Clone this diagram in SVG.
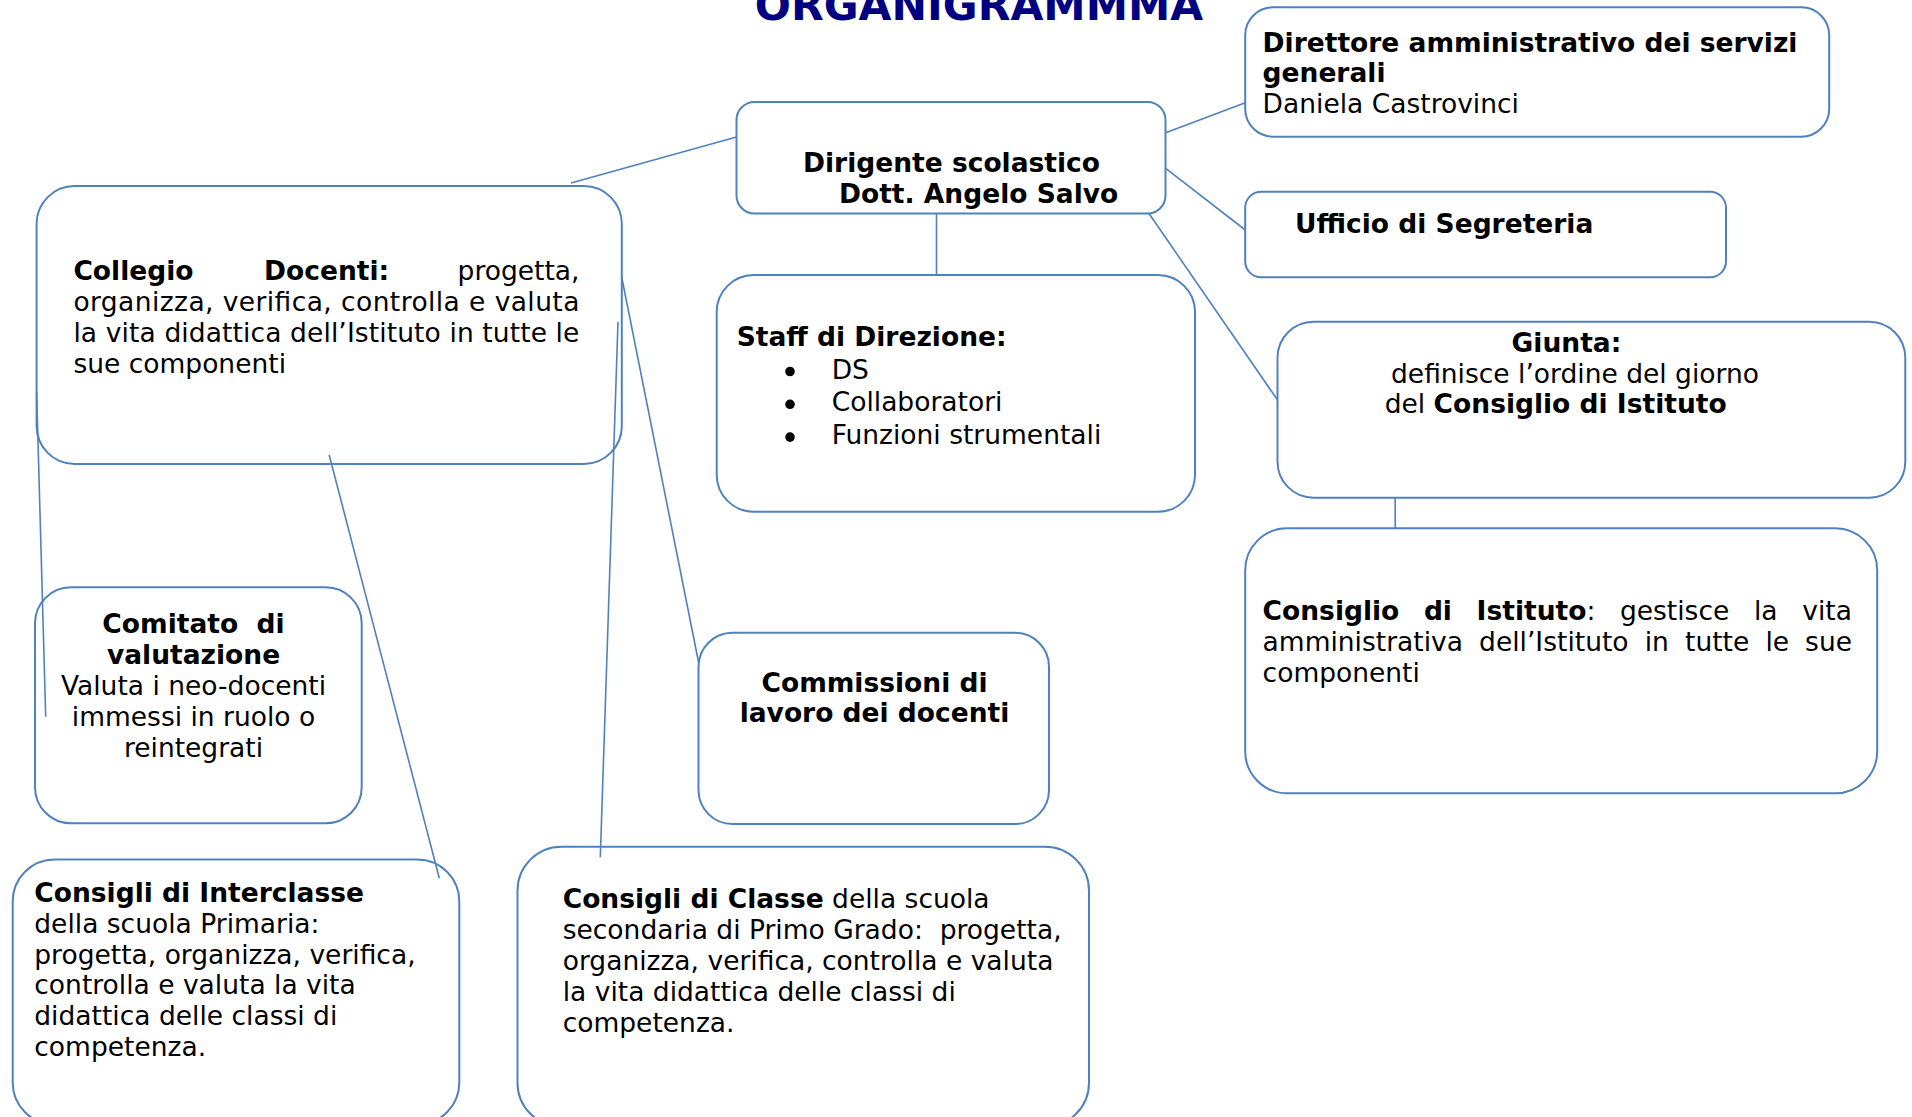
<svg xmlns="http://www.w3.org/2000/svg" width="1912" height="1117" viewBox="0 0 1912 1117">
<style>
.box{fill:#ffffff;stroke:#4f81bd;stroke-width:2}
.ln{stroke:#4f81bd;stroke-width:1.6;fill:none}
text{font-family:"DejaVu Sans","Liberation Sans",sans-serif;font-size:26.5px;fill:#000}
.b{font-weight:bold}
.c{text-anchor:middle}
.title{font-size:42.5px;font-weight:bold;fill:#000080;text-anchor:middle}
</style>
<rect width="1912" height="1117" fill="#ffffff"/>
<text class="title" x="979" y="20">ORGANIGRAMMMA</text>

<g id="dirigente">
<rect class="box" x="736.5" y="102" width="429" height="111.5" rx="18"/>
<text class="b" x="803" y="171.7">Dirigente scolastico</text>
<text class="b" x="839" y="202.7">Dott. Angelo Salvo</text>
</g>

<g id="direttore">
<rect class="box" x="1245.2" y="7.3" width="584" height="129.4" rx="28"/>
<text class="b" x="1262.6" y="51.7">Direttore amministrativo dei servizi</text>
<text class="b" x="1262.6" y="81.7">generali</text>
<text x="1262.6" y="112.7">Daniela Castrovinci</text>
</g>

<g id="ufficio">
<rect class="box" x="1245.2" y="191.7" width="480.8" height="85.6" rx="16"/>
<text class="b" x="1295" y="233.3">Ufficio di Segreteria</text>
</g>

<g id="collegio">
<rect class="box" x="36.6" y="186" width="585.2" height="278" rx="38"/>
<text class="b" x="73.4" y="280">Collegio</text>
<text class="b" x="264" y="280">Docenti:</text>
<text x="579.5" y="280" text-anchor="end">progetta,</text>
<text x="73.4" y="311" textLength="506" lengthAdjust="spacing">organizza, verifica, controlla e valuta</text>
<text x="73.4" y="342" textLength="506" lengthAdjust="spacing">la vita didattica dell’Istituto in tutte le</text>
<text x="73.4" y="373">sue componenti</text>
</g>

<g id="staff">
<rect class="box" x="716.7" y="275" width="478.3" height="236.7" rx="37"/>
<text class="b" x="736.7" y="346">Staff di Direzione:</text>
<circle cx="790" cy="371.5" r="4.8" fill="#000"/>
<circle cx="790" cy="404.3" r="4.8" fill="#000"/>
<circle cx="790" cy="437.1" r="4.8" fill="#000"/>
<text x="831.7" y="378.5">DS</text>
<text x="831.7" y="411.3">Collaboratori</text>
<text x="831.7" y="444.1">Funzioni strumentali</text>
</g>

<g id="giunta">
<rect class="box" x="1277.5" y="321.7" width="627.8" height="176" rx="36"/>
<text class="b" x="1511.6" y="351.7">Giunta:</text>
<text x="1391" y="383.3">definisce l’ordine del giorno</text>
<text x="1384.7" y="413.3">del <tspan class="b">Consiglio di Istituto</tspan></text>
</g>

<g id="consiglio-istituto">
<rect class="box" x="1245.2" y="528.3" width="632" height="265" rx="42"/>
<text class="b" x="1262.6" y="620">Consiglio</text>
<text class="b" x="1423.9" y="620">di</text>
<text x="1476.6" y="620"><tspan class="b">Istituto</tspan>:</text>
<text x="1619.9" y="620">gestisce</text>
<text x="1753.9" y="620">la</text>
<text x="1852" y="620" text-anchor="end">vita</text>
<text x="1262.6" y="651">amministrativa</text>
<text x="1479.1" y="651">dell’Istituto</text>
<text x="1644.7" y="651">in</text>
<text x="1685" y="651">tutte</text>
<text x="1765.4" y="651">le</text>
<text x="1852" y="651" text-anchor="end">sue</text>
<text x="1262.6" y="682">componenti</text>
</g>

<g id="comitato">
<rect class="box" x="35" y="587.3" width="326.7" height="236" rx="36"/>
<text class="b c" x="193.5" y="632.5" xml:space="preserve">Comitato  di</text>
<text class="b c" x="193.5" y="663.5">valutazione</text>
<text class="c" x="193.5" y="694.5">Valuta i neo-docenti</text>
<text class="c" x="193.5" y="725.5">immessi in ruolo o</text>
<text class="c" x="193.5" y="756.5">reintegrati</text>
</g>

<g id="commissioni">
<rect class="box" x="698.5" y="632.8" width="350.5" height="191.3" rx="34"/>
<text class="b c" x="874.5" y="691.7">Commissioni di</text>
<text class="b c" x="874.5" y="721.7">lavoro dei docenti</text>
</g>

<g id="interclasse">
<rect class="box" x="12.7" y="859.5" width="446.6" height="265" rx="42"/>
<text class="b" x="34.3" y="901.7">Consigli di Interclasse</text>
<text x="34.3" y="932.6">della scuola Primaria:</text>
<text x="34.3" y="963.5">progetta, organizza, verifica,</text>
<text x="34.3" y="994.4">controlla e valuta la vita</text>
<text x="34.3" y="1025.3">didattica delle classi di</text>
<text x="34.3" y="1056.2">competenza.</text>
</g>

<g id="classe">
<rect class="box" x="517.5" y="846.7" width="571.5" height="280" rx="44"/>
<text x="562.7" y="908.3"><tspan class="b">Consigli di Classe</tspan> della scuola</text>
<text x="562.7" y="939.3" xml:space="preserve">secondaria di Primo Grado:  progetta,</text>
<text x="562.7" y="970.2">organizza, verifica, controlla e valuta</text>
<text x="562.7" y="1001.1">la vita didattica delle classi di</text>
<text x="562.7" y="1032">competenza.</text>
</g>

<g id="connectors">
<line class="ln" x1="571" y1="183" x2="736.5" y2="137"/>
<line class="ln" x1="1165.7" y1="132.7" x2="1245.3" y2="102.7"/>
<line class="ln" x1="1165.7" y1="168.3" x2="1245.3" y2="230"/>
<line class="ln" x1="936.5" y1="213.5" x2="936.5" y2="275"/>
<line class="ln" x1="1149" y1="213.5" x2="1277.5" y2="400"/>
<line class="ln" x1="1395.2" y1="497.7" x2="1395.2" y2="529"/>
<line class="ln" x1="621.5" y1="276" x2="698.5" y2="662"/>
<line class="ln" x1="618" y1="321.7" x2="600.3" y2="857.3"/>
<line class="ln" x1="329.2" y1="455" x2="439.3" y2="878.3"/>
<line class="ln" x1="36.6" y1="391.7" x2="45.7" y2="716.7"/>
</g>
</svg>
